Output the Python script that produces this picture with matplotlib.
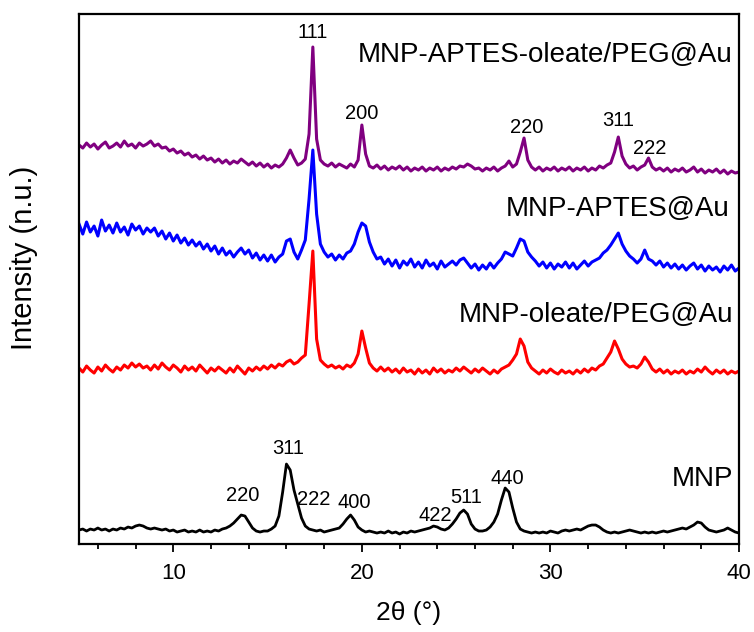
import numpy as np
import matplotlib
matplotlib.use('Agg')
from matplotlib import pyplot as plt

plt.rcParams['font.family'] = ['Liberation Sans', 'DejaVu Sans']

# 2theta grid, 0.2 deg steps (offset stacked, a.u.)
two_theta = np.round(np.arange(5.0, 40.001, 0.2), 1)

mnp_aptes_oleate_peg_au = [
    399, 396, 401, 397, 400, 395, 399, 402, 396, 398,
    401, 397, 403, 398, 400, 396, 401, 398, 400, 403,
    398, 400, 396, 397, 393, 395, 391, 393, 389, 391,
    387, 389, 385, 388, 384, 386, 382, 385, 381, 384,
    380, 383, 381, 385, 382, 379, 382, 378, 381, 377,
    380, 376, 379, 377, 380, 386, 394, 386, 379, 381,
    385, 410, 497, 405, 384, 380, 378, 381, 377, 380,
    378, 376, 380, 377, 384, 419, 390, 378, 376, 379,
    375, 378, 374, 377, 375, 378, 374, 377, 373, 376,
    374, 377, 373, 376, 374, 377, 373, 376, 374, 377,
    375, 378, 377, 380, 378, 375, 376, 373, 376, 374,
    377, 373, 376, 378, 383, 377, 380, 392, 406, 384,
    377, 374, 377, 373, 376, 374, 377, 373, 376, 374,
    377, 373, 376, 374, 377, 373, 376, 374, 378, 376,
    379, 381, 392, 407, 388, 380, 376, 378, 374, 377,
    379, 386, 377, 374, 376, 373, 376, 372, 375, 373,
    376, 372, 374, 377, 372, 375, 371, 374, 372, 375,
    371, 374, 370, 373, 371, 372,
]

mnp_aptes_au = [
    320, 310, 322, 312, 318, 308, 324, 313, 319, 311,
    321, 312, 317, 309, 320, 314, 318, 310, 316, 312,
    316, 308, 313, 305, 311, 303, 309, 301, 306, 299,
    304, 298, 302, 295, 300, 293, 298, 290, 296, 289,
    293, 287, 292, 296, 290, 294, 286, 291, 284, 289,
    283, 289, 282, 287, 290, 303, 305, 292, 285, 294,
    304, 345, 394, 330, 300, 292, 287, 290, 284, 289,
    285, 291, 293, 300, 312, 321, 318, 302, 292, 285,
    287, 280, 285, 278, 284, 276, 283, 279, 285, 277,
    282, 276, 284, 278, 281, 275, 283, 277, 280, 283,
    279, 284, 286, 281, 276, 280, 274, 279, 275, 281,
    276, 281, 285, 292, 290, 288, 296, 305, 303, 292,
    287, 283, 278, 282, 276, 281, 275, 280, 277, 282,
    276, 281, 275, 279, 283, 278, 282, 284, 286, 291,
    294, 299, 305, 311, 300, 293, 288, 285, 281, 285,
    294, 285, 283, 279, 283, 277, 281, 276, 280, 275,
    279, 274, 278, 281, 275, 279, 273, 278, 274, 277,
    272, 278, 274, 279, 273, 276,
]

mnp_oleate_peg_au = [
    176, 172, 178, 174, 171, 177, 173, 179, 175, 172,
    177, 174, 179, 176, 181, 177, 180, 176, 178, 174,
    179, 175, 181, 177, 174, 179, 176, 172, 178, 174,
    177, 173, 179, 175, 171, 176, 173, 177, 174, 171,
    176, 172, 178, 174, 170, 176, 173, 177, 174, 178,
    175, 179, 176, 180, 178, 182, 184, 180, 182, 186,
    189, 240, 293, 205, 184, 180, 177, 179, 176, 178,
    175, 179, 177, 181, 190, 213, 196, 181, 176, 173,
    177, 173, 176, 172, 175, 171, 176, 172, 174, 170,
    175, 171, 174, 170, 176, 172, 175, 171, 174, 172,
    176, 173, 177, 174, 171, 175, 172, 176, 173, 170,
    174, 171, 175, 177, 179, 184, 190, 205, 198, 182,
    176, 173, 170, 174, 171, 175, 172, 170, 174, 171,
    173, 170, 174, 171, 175, 172, 176, 174, 178, 180,
    186, 192, 203, 195, 185, 180, 177, 178, 176, 180,
    187, 182, 175, 172, 175, 171, 174, 170, 173, 171,
    174, 170, 173, 171, 175, 172, 177, 173, 170, 174,
    171, 174, 170, 173, 171, 173,
]

mnp = [
    14, 15, 13, 15, 14, 16, 14, 15, 13, 15,
    14, 16, 15, 17, 16, 18, 19, 18, 16, 15,
    16, 15, 14, 15, 13, 14, 12, 13, 14, 12,
    13, 12, 14, 12, 13, 12, 14, 13, 15, 16,
    18, 21, 25, 29, 28, 22, 16, 13, 12, 13,
    13, 15, 18, 28, 52, 80, 74, 54, 40, 26,
    18, 15, 14, 13, 14, 12, 13, 14, 15, 16,
    20, 25, 29, 24, 17, 14, 12, 13, 12, 11,
    12, 11, 13, 11, 12, 10, 12, 11, 13, 12,
    13, 14, 15, 16, 18, 17, 15, 14, 16, 20,
    25, 31, 34, 30, 20, 15, 13, 13, 14, 17,
    22, 30, 44, 56, 52, 36, 22, 15, 13, 12,
    11, 12, 11, 12, 11, 13, 12, 11, 13, 14,
    13, 14, 15, 14, 16, 18, 19, 19, 17, 14,
    12, 11, 12, 11, 12, 13, 14, 13, 12, 11,
    12, 11, 12, 11, 12, 13, 12, 13, 14, 15,
    16, 15, 17, 19, 22, 21, 17, 14, 13, 12,
    13, 14, 16, 14, 12, 11,
]

sample_names = ['MNP-APTES-oleate/PEG@Au', 'MNP-APTES@Au', 'MNP-oleate/PEG@Au', 'MNP']
name_pos = [(39.63, 489), (39.47, 335), (39.68, 229), (39.68, 65)]

# Au reflections (top pattern) and magnetite reflections (MNP)
au_hkl = ['111', '200', '220', '311', '222']
au_pos = [(17.41, 512), (20.0, 431), (28.76, 417), (33.58, 424), (35.25, 396)]
mnp_hkl = ['311', '220', '222', '400', '422', '511', '440']
mnp_pos = [(16.08, 96), (13.7, 49), (17.46, 45), (19.58, 42), (23.88, 29), (25.52, 47), (27.7, 66)]

fig = plt.figure(figsize=(7.54, 6.32), dpi=100)
ax = fig.add_axes([0.1048, 0.1392, 0.8753, 0.8386])

curves = [mnp_aptes_oleate_peg_au, mnp_aptes_au, mnp_oleate_peg_au, mnp]
colors = ['#800080', '#0000ff', '#ff0000', 'black']
widths = [2.2, 2.2, 2.2, 2.0]
for y, c, w in zip(curves, colors, widths):
    ax.plot(two_theta, y, color=c, lw=w)

for name, (x, y) in zip(sample_names, name_pos):
    ax.text(x, y, name, fontsize=20, ha='right', va='center')
for lab, (x, y) in zip(au_hkl, au_pos):
    ax.text(x, y, lab, fontsize=14.5, ha='center', va='center')
for lab, (x, y) in zip(mnp_hkl, mnp_pos):
    ax.text(x, y, lab, fontsize=14.5, ha='center', va='center')

ax.set_xlim(5, 40)
ax.set_ylim(0, 530)
ax.set_xticks([10, 20, 30, 40])
ax.set_xticks(np.arange(6, 40, 2), minor=True)
ax.set_yticks([])
ax.tick_params(axis='x', which='major', direction='out', length=6, width=1.3,
               labelsize=16, pad=8)
ax.tick_params(axis='x', which='minor', direction='out', length=3.5, width=1.3)
for s in ax.spines.values():
    s.set_linewidth(1.6)

ax.set_xlabel('2θ (°)', fontsize=19, labelpad=12)
ax.set_ylabel('Intensity (n.u.)', fontsize=21)
ax.yaxis.set_label_coords(-0.062, 0.54)

fig.savefig('out.png', dpi=100)
